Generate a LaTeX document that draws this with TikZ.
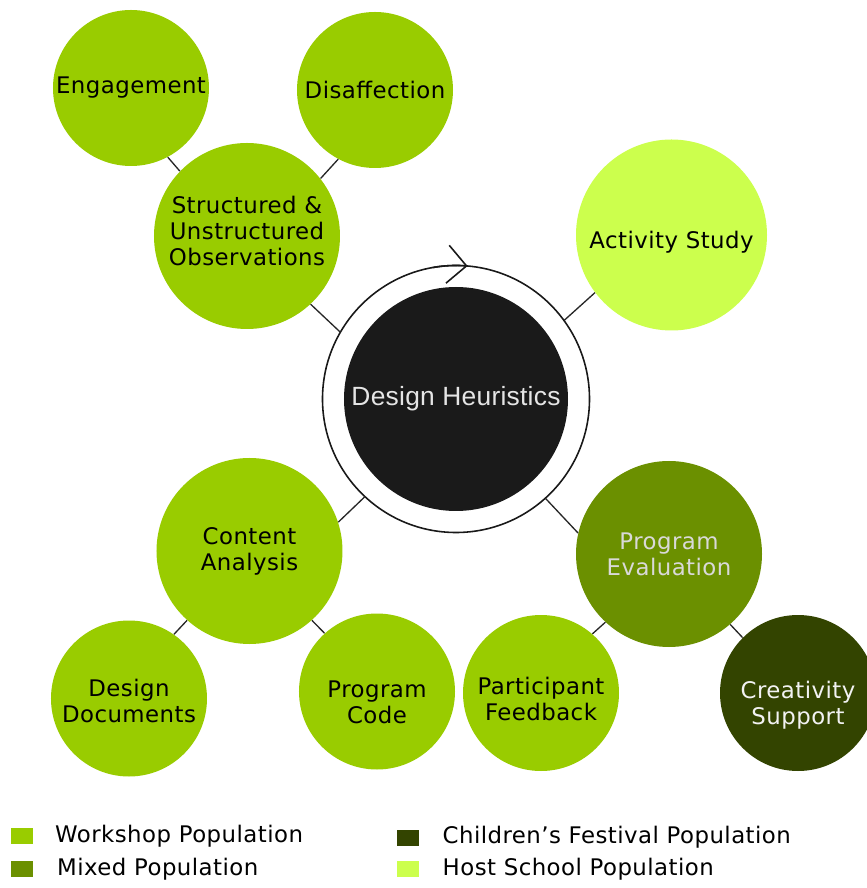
\documentclass[tikz,border=0pt]{standalone}
\usepackage{fontspec}
\setmainfont{DejaVu Sans}[LetterSpace=2]
\newfontfamily\headfont{Liberation Sans}[LetterSpace=1]
\usetikzlibrary{positioning,arrows.meta}

\definecolor{workshop}{HTML}{99CC00}
\definecolor{mixed}{HTML}{6B9000}
\definecolor{festival}{HTML}{334400}
\definecolor{host}{HTML}{CCFF4D}
\definecolor{hubdark}{HTML}{1A1A1A}

\begin{document}
\begin{tikzpicture}[
        >={Straight Barb[length=3.8mm, width=7.6mm]},
        font=\fontsize{13}{14.8}\selectfont,
        bubble/.style={circle, fill=workshop, align=center, inner sep=0pt, minimum size=3.12cm},
        hub/.style={bubble, minimum size=3.72cm},
        drop/.style={text height=#1},
        link/.style={line width=0.75pt, draw=black!85},
        ringline/.style={line width=0.9pt, draw=black!90},
        key/.style={rectangle, inner sep=0pt, minimum width=4.4mm, minimum height=3.2mm},
        keytext/.style={inner sep=0pt}
    ]
    \fill[white] (-9.12,-9.78) rectangle (8.20,7.98);
    \useasboundingbox (-9.12,-9.78) rectangle (8.20,7.98);

    % centre: ring with the dark disc inside
    \node[circle, ringline, outer sep=0pt, minimum size=5.34cm] (ring) at (0,0) {};
    \node[circle, fill=hubdark, minimum size=4.48cm, text=black!10,
          font=\headfont\fontsize{15}{18}\selectfont] (core) at (0,0) {Design Heuristics};
    \draw[ringline, ->] (ring.100) arc[start angle=100, end angle=85, radius=2.67cm];

    % upper left branch
    \node[hub, drop=33.6pt] (obs) at (-4.18,3.26) {Structured \&\\Unstructured\\Observations};
    \node[bubble] (eng) at (-6.50,6.22) {Engagement};
    \node[bubble] (dis) at (-1.62,6.18) {Disaffection};

    % upper right
    \node[hub, fill=host, minimum size=3.82cm, drop=18.5pt] (act) at (4.31,3.28) {Activity Study};

    % lower left branch
    \node[hub] (cont) at (-4.13,-3.04) {Content\\Analysis};
    \node[bubble, drop=27.8pt] (docs) at (-6.54,-5.99) {Design\\Documents};
    \node[bubble, drop=36.4pt] (code) at (-1.58,-5.85) {Program\\Code};

    % lower right branch
    \node[hub, fill=mixed, text=black!15] (eval) at (4.26,-3.10) {Program\\Evaluation};
    \node[bubble, drop=31.8pt] (feed) at (1.70,-5.88) {Participant\\Feedback};
    \node[bubble, fill=festival, text=black!5, drop=38.4pt] (crea) at (6.84,-5.88) {Creativity\\Support};

    \draw[link] (eng.-62) -- (obs.136);
    \draw[link] (dis.-118) -- (obs.38);
    \draw[link] (obs.-47) -- (ring.150);
    \draw[link] (act.217) -- (ring.36);
    \draw[link] (cont.18) -- (ring.227);
    \draw[link] (ring.-48) -- (eval.167);
    \draw[link] (eval.227) -- (feed.49);
    \draw[link] (eval.-49) -- (crea.135);
    \draw[link] (cont.-132) -- (docs.55);
    \draw[link] (cont.-48) -- (code.132);

    % legend
    \node[key, fill=workshop] (kws) at (-8.67,-8.74) {};
    \node[key, fill=mixed, below=3.2mm of kws] (kmix) {};
    \node[key, fill=festival] (kfest) at (-0.96,-8.77) {};
    \node[key, fill=host, below=3mm of kfest] (khost) {};
    \node[keytext, right=4.2mm of kws] (lws) {Workshop Population};
    \node[keytext, right=4.6mm of kmix] (lmix) {Mixed Population};
    \node[keytext, right=4.6mm of kfest] (lfest) {Children’s Festival Population};
    \node[keytext, right=4.6mm of khost] (lhost) {Host School Population};
\end{tikzpicture}
\end{document}
